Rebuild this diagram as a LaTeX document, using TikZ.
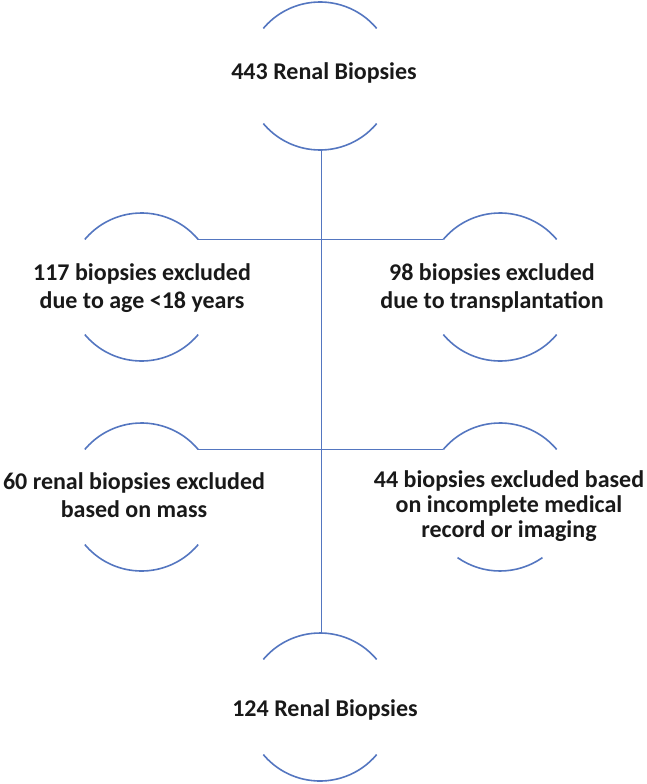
\documentclass[tikz,border=0pt]{standalone}
\usepackage{fontspec}
\setmainfont{Carlito}
\usetikzlibrary{calc}
\definecolor{lineblue}{RGB}{84,118,192}
\tikzset{
  arcline/.style={draw=lineblue, line width=1.6pt},
  conn/.style={draw=lineblue, line width=1.6pt},
  lbl/.style={font=\bfseries\fontsize{24}{28}\selectfont, align=center, inner sep=0pt, text=black!90}
}
\begin{document}
\begin{tikzpicture}[x=1pt,y=-1pt]
\useasboundingbox (0,0) rectangle (647,784);
% circle centres
\coordinate (tc) at (320,76);
\coordinate (l1c) at (141.5,287);
\coordinate (r1c) at (500,287);
\coordinate (l2c) at (141.5,497);
\coordinate (r2c) at (500,497);
\coordinate (bc) at (320,707);
\def\R{74}
% arcs (y axis flipped)
\foreach \c in {tc,l1c,r1c,l2c,bc}{
  \draw[arcline] ($(\c)+(-40:\R)$) arc[start angle=-40,end angle=-140,radius=\R];
  \draw[arcline] ($(\c)+(40:\R)$) arc[start angle=40,end angle=140,radius=\R];
}
\draw[arcline] ($(r2c)+(-40:\R)$) arc[start angle=-40,end angle=-140,radius=\R];
\draw[arcline] ($(r2c)+(55:\R)$) arc[start angle=55,end angle=125,radius=\R];
% connector coordinates
\coordinate (tbot) at ($(tc)+(90:\R)$);
\coordinate (btop) at ($(bc)+(-90:\R)$);
\coordinate (l1e) at ($(l1c)+(-40:\R)$);
\coordinate (r1w) at ($(r1c)+(-140:\R)$);
\coordinate (l2e) at ($(l2c)+(-40:\R)$);
\coordinate (r2w) at ($(r2c)+(-140:\R)$);
\draw[conn] ([xshift=1.5pt]tbot) -- ([xshift=1.5pt]btop);
\draw[conn] (l1e) -- (r1w);
\draw[conn] (l2e) -- (r2w);
% labels
\node[lbl] (top) at (324,73) {443 Renal Biopsies};
\node[lbl] (l1) at (142,288) {117 biopsies excluded\\due to age <18 years};
\node[lbl] (r1) at (492,288) {98 biopsies excluded\\due to transplantation};
\node[lbl] (l2) at (134,495) {60 renal biopsies excluded\\based on mass};
\node[lbl, font=\bfseries\fontsize{24}{25}\selectfont] (r2) at (509,506) {44 biopsies excluded based\\on incomplete medical\\record or imaging};
\node[lbl] (bot) at (325,710) {124 Renal Biopsies};
\end{tikzpicture}
\end{document}
